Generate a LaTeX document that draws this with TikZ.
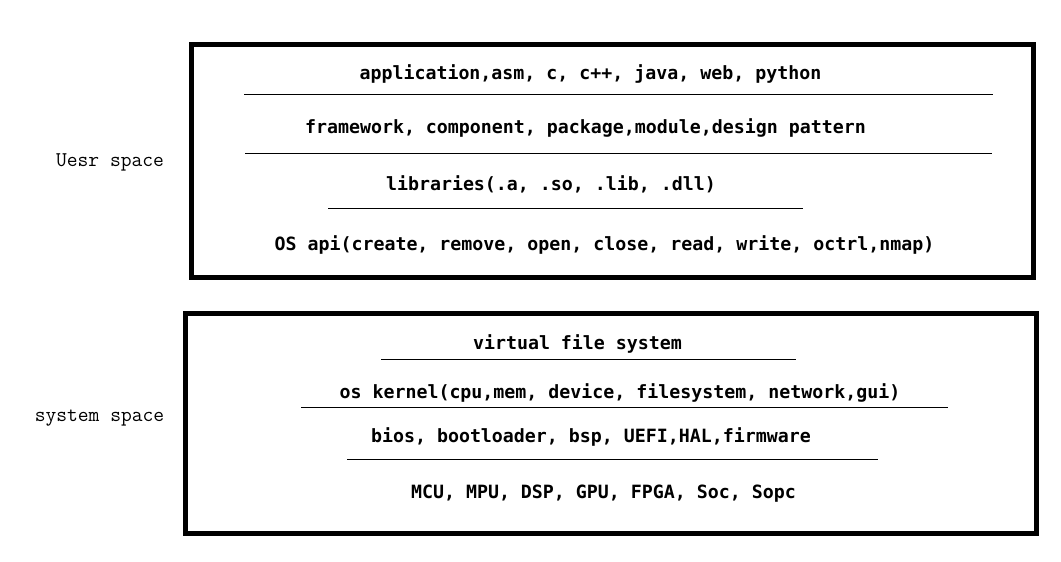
\documentclass[tikz,border=0pt]{standalone}
\usepackage{fontspec}
\newfontfamily\layerfont{DejaVu Sans Mono}
\begin{document}
\begin{tikzpicture}[x=1pt,y=-1pt,
  layer/.style={font=\layerfont\bfseries\fontsize{18.27}{20}\selectfont, anchor=base, inner sep=0pt},
  side/.style={font=\ttfamily\fontsize{20.95}{22}\selectfont, anchor=base, inner sep=0pt},
  frame/.style={line width=5pt},
  divider/.style={line width=1pt}]
\useasboundingbox[fill=white] (0,0) rectangle (1061,562);

% user space
\draw[frame] (191.5,44.5) rectangle (1033.5,277.5);
\node[layer] (app) at (590.5,79) {application,asm, c, c++, java, web, python};
\draw[divider] (244,94.5) -- (993,94.5);
\node[layer] (fw) at (585.5,133) {framework, component, package,module,design pattern};
\draw[divider] (245,153.5) -- (992,153.5);
\node[layer] (lib) at (551,190) {libraries(.a, .so, .lib, .dll)};
\draw[divider] (328,208.5) -- (803,208.5);
\node[layer] (api) at (604.5,250) {OS api(create, remove, open, close, read, write, octrl,nmap)};
\node[side] (user) at (110,166) {Uesr space};

% system space
\draw[frame] (185.5,313.5) rectangle (1036.5,533.5);
\node[layer] (vfs) at (577.5,349) {virtual file system};
\draw[divider] (381,359.5) -- (796,359.5);
\node[layer] (kern) at (620,398) {os kernel(cpu,mem, device, filesystem, network,gui)};
\draw[divider] (301,407.5) -- (948,407.5);
\node[layer] (bios) at (591,442) {bios, bootloader, bsp, UEFI,HAL,firmware};
\draw[divider] (347,459.5) -- (878,459.5);
\node[layer] (hw) at (603.5,498) {MCU, MPU, DSP, GPU, FPGA, Soc, Sopc};
\node[side] (sys) at (99.5,421) {system space};
\end{tikzpicture}
\end{document}
